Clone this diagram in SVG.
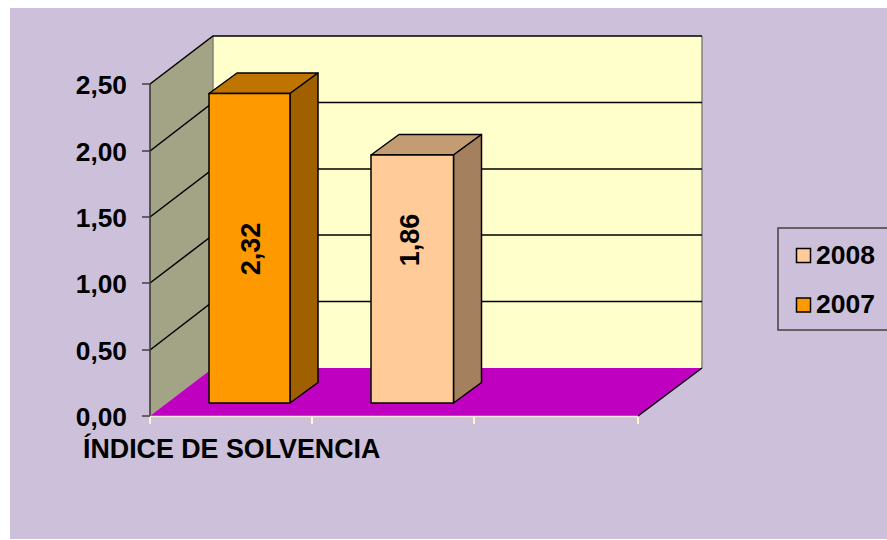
<svg xmlns="http://www.w3.org/2000/svg" width="887" height="540" viewBox="0 0 887 540">
<style>
text{font-family:"Liberation Sans",Arial,sans-serif;font-weight:bold;fill:#000}
.ax{font-size:26.3px;text-anchor:end}
.grid{stroke:#000;stroke-width:1.5;fill:none}
.edge{stroke:#000;stroke-width:1.5;stroke-linejoin:round}
.tick{stroke:#404040;stroke-width:1.5}
.ctick{stroke:#FFF5D0;stroke-width:2}
</style>
<rect x="0" y="0" width="887" height="540" fill="#FFFFFF"/>
<rect x="10" y="8" width="877" height="531" fill="#CCC0DA"/>
<g id="plot-area">
<polygon points="213,36 702,36 702,368 213,368" fill="#FFFFCC"/>
<polygon points="150,84 213,36 213,368 150,416" fill="#A3A385"/>
<polygon points="150,416 213,368 702,368 638,416" fill="#C000C0"/>
<line x1="213" y1="36" x2="213" y2="368" stroke="#808080" stroke-width="1.5"/>
<line x1="702" y1="36" x2="702" y2="368" stroke="#808080" stroke-width="1.5"/>
<g class="grid">
<polyline points="150,84 213,36 702,36"/>
<polyline points="150,151 213,102.5 702,102.5"/>
<polyline points="150,217 213,169 702,169"/>
<polyline points="150,283 213,235 702,235"/>
<polyline points="150,350 213,301.5 702,301.5"/>
</g>
<line x1="150" y1="84" x2="150" y2="416" stroke="#333" stroke-width="1.5"/>
<line class="edge" x1="638" y1="416" x2="702" y2="368"/>
<line x1="150" y1="416.5" x2="638" y2="416.5" stroke="#F5E6E0" stroke-width="1.5"/>
</g>
<g id="axis">
<line class="tick" x1="142" y1="84" x2="150" y2="84"/>
<line class="tick" x1="142" y1="151" x2="150" y2="151"/>
<line class="tick" x1="142" y1="217" x2="150" y2="217"/>
<line class="tick" x1="142" y1="283" x2="150" y2="283"/>
<line class="tick" x1="142" y1="350" x2="150" y2="350"/>
<line class="tick" x1="142" y1="416" x2="150" y2="416"/>
<line class="ctick" x1="150" y1="417" x2="150" y2="424"/>
<line class="ctick" x1="312" y1="417" x2="312" y2="424"/>
<line class="ctick" x1="474" y1="417" x2="474" y2="424"/>
<line class="ctick" x1="638" y1="417" x2="638" y2="424"/>
<text class="ax" x="127" y="94">2,50</text>
<text class="ax" x="127" y="161">2,00</text>
<text class="ax" x="127" y="227">1,50</text>
<text class="ax" x="127" y="293">1,00</text>
<text class="ax" x="127" y="360">0,50</text>
<text class="ax" x="127" y="426">0,00</text>
<text x="83" y="458" style="font-size:26.8px">ÍNDICE DE SOLVENCIA</text>
</g>
<g id="bar-2007">
<polygon class="edge" points="209,93.5 237,73 318,73 290,93.5" fill="#C07400"/>
<polygon class="edge" points="290,93.5 318,73 318,382.5 290,403" fill="#A06000"/>
<rect class="edge" x="209" y="93.5" width="81" height="309.5" fill="#FF9900"/>
<text x="260" y="249" transform="rotate(-90 260 249)" style="font-size:27px;text-anchor:middle">2,32</text>
</g>
<g id="bar-2008">
<polygon class="edge" points="371,155 399,134.5 481.5,134.5 453.5,155" fill="#C49C74"/>
<polygon class="edge" points="453.5,155 481.5,134.5 481.5,382.5 453.5,403" fill="#A4805F"/>
<rect class="edge" x="371" y="155" width="82.5" height="248" fill="#FFCC99"/>
<text x="419" y="240" transform="rotate(-90 419 240)" style="font-size:27px;text-anchor:middle">1,86</text>
</g>
<g id="legend">
<rect x="778" y="228" width="120" height="102" fill="none" stroke="#404040" stroke-width="1.5"/>
<rect x="796.5" y="248.5" width="14" height="14" fill="#FFCC99" stroke="#000" stroke-width="1.5"/>
<text x="816" y="263.5" style="font-size:26.5px">2008</text>
<rect x="796.5" y="298" width="14" height="14" fill="#FF9900" stroke="#000" stroke-width="1.5"/>
<text x="816" y="313" style="font-size:26.5px">2007</text>
</g>
</svg>
